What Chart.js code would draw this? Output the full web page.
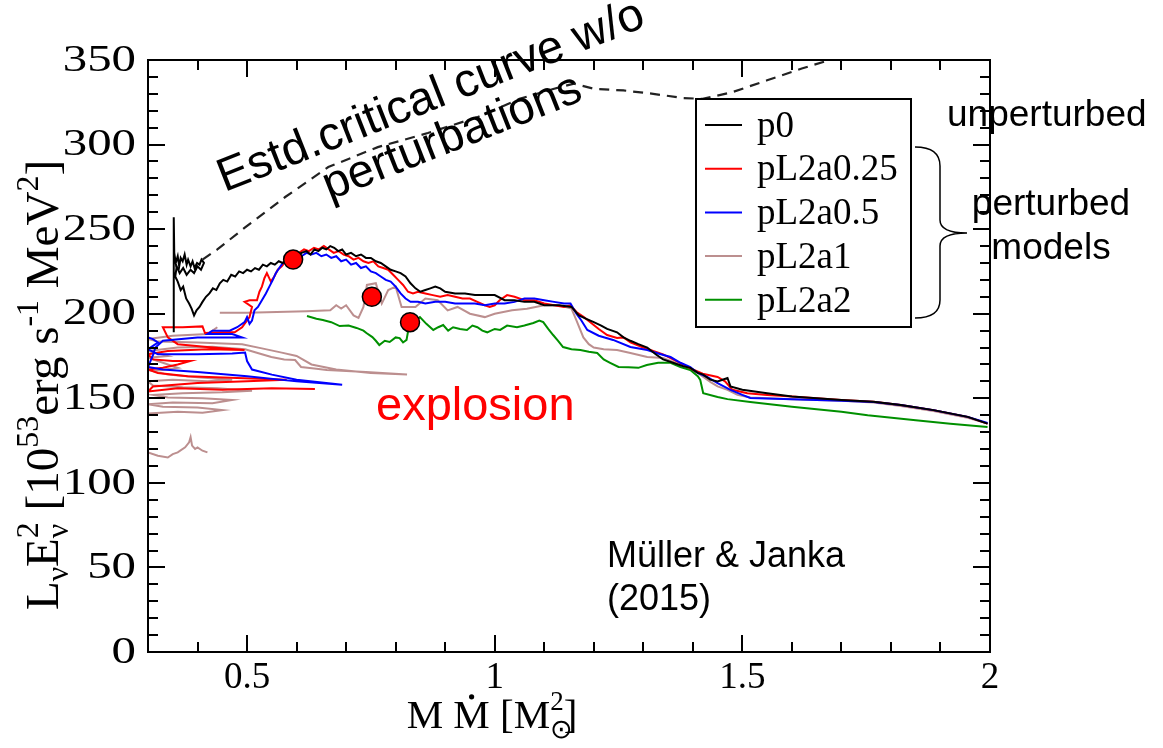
<!DOCTYPE html>
<html>
<head>
<meta charset="utf-8">
<script src="https://cdn.jsdelivr.net/npm/chart.js@4"></script>
<style>
html, body { margin: 0; padding: 0; background: #fff; }
</style>
</head>
<body>
<canvas id="myChart" width="1163" height="748"></canvas>
<script>
// legend names and line colours
const seriesNames = ['p0', 'pL2a0.25', 'pL2a0.5', 'pL2a1', 'pL2a2'];
const seriesColors = ['#000000', '#ff0000', '#0000ff', '#bc8f8f', '#009000'];

const xTickVals = [0.5, 1, 1.5, 2];
const yTickVals = [0, 50, 100, 150, 200, 250, 300, 350];

// [M*Mdot, L*E^2]
const p0 = [[0.352,189],[0.352,257],[0.353,236],[0.356,230],[0.36,234],[0.363,228],[0.366,233],[0.37,231],[0.374,235],[0.378,229],[0.381,232],[0.386,228],[0.39,231],[0.394,227],[0.399,230],[0.404,229],[0.408,232],[0.413,230],[0.407,226],[0.4,228],[0.393,224],[0.386,226],[0.378,223],[0.371,227],[0.364,224],[0.358,228],[0.355,222],[0.36,219],[0.366,214],[0.371,216],[0.377,209],[0.383,206],[0.388,203],[0.393,199],[0.398,202],[0.404,204],[0.41,207],[0.417,210],[0.424,212],[0.431,215],[0.438,214],[0.445,218],[0.452,220],[0.46,219],[0.468,223],[0.476,222],[0.484,225],[0.492,224],[0.5,226],[0.508,225],[0.516,227],[0.524,226],[0.532,229],[0.54,228],[0.548,230],[0.556,229],[0.564,231],[0.572,230],[0.58,232],[0.59,233],[0.6,234],[0.61,236],[0.62,237],[0.628,235],[0.636,238],[0.644,237],[0.652,239],[0.66,238],[0.668,240],[0.676,239],[0.684,237],[0.692,238],[0.7,235],[0.71,236],[0.72,234],[0.73,235],[0.74,233],[0.75,233],[0.76,231],[0.77,230],[0.78,228],[0.79,226],[0.8,225],[0.81,224],[0.82,222],[0.83,218],[0.84,215],[0.85,213],[0.86,214],[0.87,215],[0.88,216],[0.89,215],[0.9,213],[0.92,212],[0.94,212],[0.96,211],[0.98,211],[1.0,211],[1.02,208],[1.04,208],[1.06,207],[1.08,207],[1.1,205],[1.13,205],[1.155,204],[1.17,199],[1.185,197],[1.2,195],[1.215,193],[1.227,191],[1.247,189],[1.26,186],[1.274,184],[1.29,182],[1.308,180],[1.325,176],[1.34,173],[1.36,171],[1.38,169],[1.395,168],[1.41,165],[1.421,164],[1.435,161],[1.45,160],[1.46,161],[1.47,162],[1.476,157],[1.5,155],[1.55,153],[1.6,151],[1.65,150],[1.7,149],[1.765,148],[1.82,146],[1.886,143],[1.955,139],[1.995,135]];

const pL2a025 = [[0.637,155.5],[0.55,156],[0.45,155],[0.36,156],[0.30,154],[0.31,157],[0.40,159],[0.5,160],[0.58,161],[0.48,162],[0.38,163],[0.32,165],[0.30,167],[0.33,168],[0.36,170],[0.385,172],[0.35,172],[0.31,173],[0.30,176],[0.34,178],[0.42,179],[0.495,178.5],[0.43,180],[0.36,182],[0.34,186],[0.33,192],[0.37,192],[0.41,192.5],[0.415,188.6],[0.45,189],[0.475,189],[0.49,192],[0.505,198],[0.51,204],[0.495,207],[0.505,208],[0.52,208],[0.525,213],[0.53,216],[0.535,221],[0.54,224],[0.548,219],[0.555,222],[0.562,226],[0.57,228],[0.578,231],[0.586,233],[0.595,234],[0.605,236],[0.615,238],[0.625,237],[0.635,239],[0.645,238],[0.655,240],[0.665,238],[0.675,236],[0.685,237],[0.695,235],[0.705,234],[0.715,232],[0.725,233],[0.735,231],[0.745,230],[0.755,231],[0.765,228],[0.775,227],[0.785,226],[0.795,223],[0.805,220],[0.815,217],[0.825,213],[0.835,212],[0.845,213],[0.86,212],[0.875,211],[0.89,210],[0.905,211],[0.92,210],[0.935,209],[0.95,209],[0.965,207],[0.98,205],[0.99,204],[1.0,205],[1.01,208],[1.025,211],[1.04,210],[1.06,208],[1.08,208],[1.1,206],[1.12,205],[1.14,204],[1.153,205],[1.165,201],[1.18,198],[1.193,195],[1.21,191],[1.227,187.4],[1.247,185.6],[1.26,186],[1.274,183],[1.3,180],[1.32,178],[1.34,176],[1.36,173],[1.38,170],[1.4,167],[1.42,164.5],[1.45,162.6],[1.465,160],[1.48,155],[1.51,153],[1.55,152],[1.6,151],[1.65,150],[1.7,149],[1.765,148],[1.82,146],[1.886,143],[1.955,139],[1.995,135]];

const pL2a05 = [[0.30,186],[0.31,185],[0.32,183],[0.31,181],[0.30,179],[0.32,176],[0.40,176],[0.47,176.5],[0.496,177],[0.50,172],[0.51,167],[0.55,164],[0.60,161],[0.692,158],[0.60,160],[0.50,163],[0.40,165.5],[0.33,167],[0.30,168.5],[0.305,172],[0.31,175.5],[0.315,180],[0.33,184],[0.40,186],[0.45,186],[0.49,186],[0.47,188],[0.42,188],[0.43,190],[0.465,190],[0.48,192],[0.495,195],[0.50,198],[0.505,194],[0.51,196],[0.515,202],[0.522,204],[0.53,208],[0.538,212],[0.545,216],[0.552,220],[0.558,224],[0.565,227],[0.572,230],[0.58,231],[0.59,232],[0.6,233],[0.61,234],[0.62,236],[0.63,235],[0.64,236],[0.65,234],[0.66,235],[0.67,233],[0.68,234],[0.69,231],[0.7,232],[0.71,229],[0.72,230],[0.73,227],[0.74,228],[0.75,225],[0.76,224],[0.77,222],[0.78,220],[0.79,219],[0.8,216],[0.81,212],[0.82,209],[0.83,207],[0.845,207],[0.86,206],[0.88,207],[0.9,207],[0.92,206],[0.94,206],[0.96,206],[0.98,205],[1.0,206],[1.02,206],[1.04,207],[1.06,209],[1.08,209],[1.1,208],[1.12,207],[1.14,206],[1.153,206],[1.165,200],[1.175,196],[1.187,190.4],[1.21,187],[1.239,184.5],[1.274,180.3],[1.308,178.5],[1.33,176.5],[1.355,174.4],[1.375,171],[1.395,168.5],[1.41,165],[1.429,162.6],[1.45,159],[1.476,155],[1.5,152],[1.516,150.2],[1.6,149.5],[1.7,148.5],[1.765,147.8],[1.82,146],[1.886,143],[1.955,139],[1.995,135.4]];

// null y = break in the line
const pL2a1 = [[0.30,118],[0.32,116],[0.34,115],[0.35,117],[0.36,118],[0.375,121],[0.383,124],[0.386,127],[0.389,122],[0.395,120],[0.40,121],[0.41,119],[0.42,118],[0.42,null],[0.30,141],[0.36,142],[0.41,141.5],[0.45,143],[0.40,144.5],[0.33,145],[0.30,146.5],[0.35,147.5],[0.43,147],[0.47,149],[0.41,150],[0.34,150.5],[0.31,152],[0.37,153],[0.45,153.5],[0.51,154.5],[0.44,156],[0.37,156.5],[0.31,157.5],[0.30,160],[0.35,161],[0.42,160],[0.47,161],[0.40,162.5],[0.34,164],[0.31,166],[0.36,168],[0.33,171],[0.30,174],[0.34,175],[0.30,178],[0.36,180],[0.43,180.5],[0.496,179],[0.53,176],[0.549,174.4],[0.575,173],[0.597,172.6],[0.609,168.5],[0.64,167.5],[0.661,166.7],[0.74,165.5],[0.823,164],[0.75,165],[0.68,167],[0.63,170],[0.60,175],[0.57,177],[0.53,179.5],[0.49,182],[0.40,183],[0.32,183.5],[0.30,185],[0.35,187],[0.42,188],[0.44,192],[0.445,null],[0.445,200.5],[0.50,200.5],[0.56,201],[0.62,201.5],[0.668,202],[0.68,205],[0.69,203],[0.70,205],[0.715,199],[0.725,197.5],[0.735,204],[0.742,217],[0.76,218],[0.772,206],[0.785,214],[0.80,216],[0.812,204],[0.84,204],[0.86,209],[0.885,208],[0.905,202],[0.925,204],[0.95,200],[0.98,198],[1.0,200],[1.035,202],[1.065,203],[1.1,205],[1.13,205],[1.155,203],[1.165,196],[1.179,186],[1.19,182],[1.2,180],[1.22,179],[1.247,178.5],[1.274,176.8],[1.308,174.4],[1.34,173.8],[1.36,171.5],[1.375,169.7],[1.395,167],[1.41,165],[1.436,159.6],[1.45,157],[1.47,155],[1.49,152],[1.516,150.5],[1.6,149.5],[1.7,148.5],[1.765,147.5],[1.82,145.5],[1.886,142.5],[1.955,138.5],[1.995,135]];

const pL2a2 = [[0.621,198.6],[0.64,197],[0.653,196.3],[0.67,195],[0.687,192.7],[0.705,193],[0.721,191.6],[0.735,190],[0.741,188.6],[0.753,186.2],[0.76,184],[0.767,181.5],[0.778,184],[0.788,183.3],[0.8,186],[0.808,185.6],[0.815,183],[0.822,184.5],[0.828,194.5],[0.84,196],[0.849,198],[0.862,194],[0.876,190.4],[0.886,192],[0.896,193.3],[0.906,190],[0.916,192],[0.93,191],[0.944,190.4],[0.955,193],[0.965,192],[0.975,190],[0.985,189],[1.0,191],[1.011,190.4],[1.025,193],[1.045,192],[1.06,193],[1.078,194.5],[1.09,196],[1.098,195],[1.108,191],[1.118,187.4],[1.128,184],[1.138,180.3],[1.155,179],[1.173,178.5],[1.19,177.5],[1.207,176.8],[1.22,173],[1.233,171],[1.25,168.5],[1.27,168.3],[1.29,168],[1.307,169.7],[1.33,171],[1.355,171],[1.375,168.5],[1.395,166.7],[1.41,163],[1.415,160.8],[1.421,153],[1.45,150.8],[1.47,149.5],[1.516,147.8],[1.6,145],[1.7,142],[1.753,140],[1.85,137],[1.92,135],[1.995,133]];

const criticalCurve = [[0.41,232],[0.44,238],[0.496,251],[0.577,269],[0.664,286.7],[0.764,298.5],[0.865,306.8],[0.966,316.3],[1.05,327],[1.12,333],[1.16,336],[1.2,333],[1.26,332],[1.32,330],[1.38,327.5],[1.42,327],[1.48,331],[1.55,338],[1.62,345],[1.7,352]];

const explosionPoints = [[0.593,232],[0.752,210],[0.829,195]];

const toPts = arr => arr.map(p => ({ x: p[0], y: p[1] }));

function lineSet(label, arr, color) {
    return {
        label: label,
        data: toPts(arr),
        showLine: true,
        borderColor: color,
        backgroundColor: color,
        borderWidth: 2,
        pointRadius: 0,
        tension: 0,
        spanGaps: false
    };
}

// draw text made of pieces [text, size, dy, stackOnPrevious]
function richWidth(ctx, parts, family) {
    let x = 0, last = 0;
    parts.forEach(p => {
        ctx.font = p[1] + 'px ' + family;
        if (p[3]) x -= last;
        last = ctx.measureText(p[0]).width;
        x += last;
    });
    return x;
}
function richText(ctx, parts, family, x0, y0, dotIndex) {
    let x = x0, last = 0;
    parts.forEach((p, i) => {
        ctx.font = p[1] + 'px ' + family;
        if (p[3]) x -= last;
        ctx.fillText(p[0], x, y0 + p[2]);
        last = ctx.measureText(p[0]).width;
        if (i === dotIndex) {
            ctx.beginPath();
            ctx.arc(x + last / 2, y0 - p[1] * 0.76, 2.6, 0, Math.PI * 2);
            ctx.fill();
        }
        x += last;
    });
}

const decor = {
    id: 'decor',
    afterDraw(chart) {
        const ctx = chart.ctx, a = chart.chartArea;
        const xs = chart.scales.x, ys = chart.scales.y;
        ctx.save();

        // frame and inward ticks on all four sides
        ctx.strokeStyle = '#000';
        ctx.lineWidth = 2;
        ctx.beginPath();
        for (let i = 3; i <= 20; i++) {
            const px = Math.round(xs.getPixelForValue(i / 10));
            const len = (i % 5 === 0) ? 17 : 10;
            ctx.moveTo(px, a.bottom); ctx.lineTo(px, a.bottom - len);
            ctx.moveTo(px, a.top); ctx.lineTo(px, a.top + len);
        }
        for (let v = 0; v <= 350; v += 10) {
            const py = Math.round(ys.getPixelForValue(v));
            const len = (v % 50 === 0) ? 17 : 10;
            ctx.moveTo(a.left, py); ctx.lineTo(a.left + len, py);
            ctx.moveTo(a.right, py); ctx.lineTo(a.right - len, py);
        }
        ctx.stroke();
        ctx.strokeRect(a.left, a.top, a.right - a.left, a.bottom - a.top);

        // y tick labels, wide serif like the original
        ctx.fillStyle = '#000';
        ctx.font = '37px "Liberation Serif"';
        ctx.textAlign = 'right';
        ctx.textBaseline = 'middle';
        yTickVals.forEach(v => {
            ctx.save();
            ctx.translate(136, ys.getPixelForValue(v) + 1);
            ctx.scale(1.32, 1);
            ctx.fillText(String(v), 0, 0);
            ctx.restore();
        });

        // legend box
        ctx.textAlign = 'left';
        ctx.fillStyle = '#fff';
        ctx.fillRect(696, 99, 215, 228);
        ctx.strokeStyle = '#000';
        ctx.lineWidth = 2;
        ctx.strokeRect(696, 99, 215, 228);
        ctx.textBaseline = 'middle';
        ctx.font = '37px "Liberation Serif"';
        seriesNames.forEach((name, i) => {
            const y = 125 + i * 43.7;
            ctx.strokeStyle = seriesColors[i];
            ctx.lineWidth = 2;
            ctx.beginPath(); ctx.moveTo(705, y); ctx.lineTo(742, y); ctx.stroke();
            ctx.fillStyle = '#000';
            ctx.fillText(name, 757, y + 2);
        });

        // brace
        ctx.strokeStyle = '#000';
        ctx.lineWidth = 1.5;
        ctx.beginPath();
        ctx.moveTo(915, 147);
        ctx.quadraticCurveTo(940, 147, 940, 166);
        ctx.lineTo(940, 220);
        ctx.quadraticCurveTo(940, 233, 967, 233);
        ctx.quadraticCurveTo(940, 233, 940, 246);
        ctx.lineTo(940, 300);
        ctx.quadraticCurveTo(940, 318, 915, 318);
        ctx.stroke();

        // annotations
        ctx.fillStyle = '#000';
        ctx.font = '37px "Liberation Sans"';
        ctx.textAlign = 'left';
        ctx.fillText('unperturbed', 947, 116);
        ctx.textAlign = 'center';
        ctx.fillText('perturbed', 1051, 205);
        ctx.fillText('models', 1051, 249);
        ctx.textAlign = 'left';
        ctx.font = '36px "Liberation Sans"';
        ctx.fillText('Müller & Janka', 607, 557);
        ctx.fillText('(2015)', 607, 600);
        ctx.fillStyle = '#ff0000';
        ctx.font = '47px "Liberation Sans"';
        ctx.fillText('explosion', 376, 407);

        ctx.fillStyle = '#000';
        ctx.textBaseline = 'alphabetic';
        ctx.textAlign = 'center';
        ctx.font = '47px "Liberation Sans"';
        const ang = -21.5 * Math.PI / 180;
        ctx.save(); ctx.translate(436, 109); ctx.rotate(ang);
        ctx.fillText('Estd.critical curve w/o', 0, 0); ctx.restore();
        ctx.save(); ctx.translate(457, 150); ctx.rotate(ang);
        ctx.fillText('perturbations', 0, 0); ctx.restore();

        // axis titles
        ctx.textAlign = 'left';
        const serif = '"Liberation Serif"';
        const yParts = [['L', 47, 0], ['\u03bd', 32, 10], ['E', 47, 0], ['\u03bd', 32, 10], ['2', 32, -20, true],
            [' [10', 47, 0], ['53', 32, -20], ['erg s', 47, 0], ['-1', 32, -20], [' MeV', 47, 0], ['2', 32, -20], [']', 47, 0]];
        const yw = richWidth(ctx, yParts, serif);
        ctx.save(); ctx.translate(58, 385); ctx.rotate(-Math.PI / 2);
        richText(ctx, yParts, serif, -yw / 2, 0, -1);
        ctx.restore();

        const xParts = [['M ', 41, 0], ['M', 41, 0], [' [M', 41, 0], ['\u2299', 27, 10], ['2', 27, -18, true], [']', 41, 0]];
        const xw = richWidth(ctx, xParts, serif);
        richText(ctx, xParts, serif, 492 - xw / 2, 728, 1);
        ctx.restore();
    }
};

const tickFont = { family: 'Liberation Serif', size: 37 };

const config = {
    type: 'scatter',
    data: {
        datasets: [
            {
                label: 'explosion',
                data: toPts(explosionPoints),
                showLine: false,
                pointRadius: 9.5,
                pointBackgroundColor: '#ff0000',
                pointBorderColor: '#000',
                pointBorderWidth: 1.5
            },
            {
                label: 'critical',
                data: toPts(criticalCurve),
                showLine: true,
                borderColor: '#222',
                borderWidth: 2.2,
                borderDash: [10, 7],
                pointRadius: 0
            },
            lineSet(seriesNames[0], p0, seriesColors[0]),
            lineSet(seriesNames[2], pL2a05, seriesColors[2]),
            lineSet(seriesNames[1], pL2a025, seriesColors[1]),
            lineSet(seriesNames[4], pL2a2, seriesColors[4]),
            lineSet(seriesNames[3], pL2a1, seriesColors[3])
        ]
    },
    options: {
        responsive: false,
        animation: false,
        layout: { padding: { left: 0, right: 173, top: 60, bottom: 0 } },
        plugins: { legend: { display: false }, tooltip: { enabled: false } },
        scales: {
            x: {
                type: 'linear', min: 0.3, max: 2,
                afterBuildTicks: s => { s.ticks = xTickVals.map(v => ({ value: v })); },
                afterFit: s => { s.height = 96; },
                grid: { display: false, drawTicks: false },
                border: { display: false },
                ticks: { font: tickFont, color: '#000', padding: 4, maxRotation: 0, autoSkip: false, callback: v => String(v) }
            },
            y: {
                type: 'linear', min: 0, max: 350,
                afterBuildTicks: s => { s.ticks = yTickVals.map(v => ({ value: v })); },
                afterFit: s => { s.width = 148; },
                grid: { display: false, drawTicks: false },
                border: { display: false },
                ticks: { display: false }
            }
        }
    },
    plugins: [decor]
};

const myChart = new Chart(document.getElementById('myChart'), config);
</script>
</body>
</html>
